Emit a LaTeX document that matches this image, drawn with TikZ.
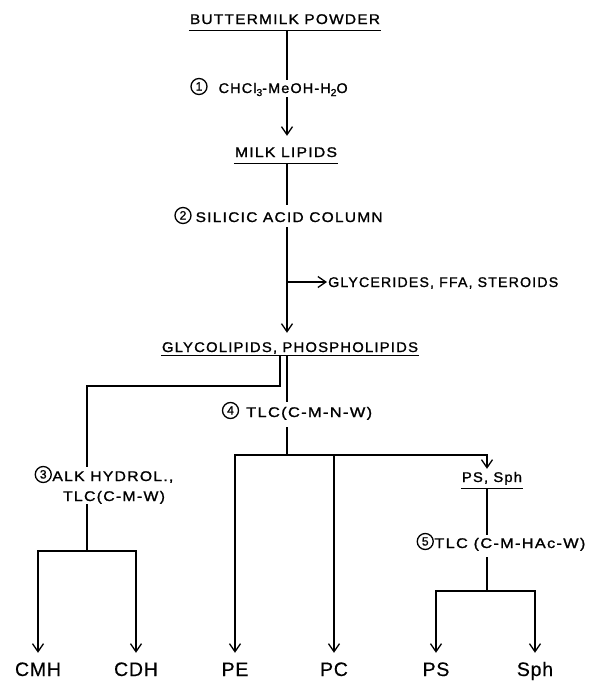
\documentclass[tikz,border=0pt]{standalone}
\usepackage{fontspec}
\usepackage{graphicx}
\usetikzlibrary{arrows.meta}
\setmainfont{Liberation Sans}
\newfontfamily\lsp{Liberation Sans}[LetterSpace=8,FakeBold=1.2]
\newfontfamily\bsp{Liberation Sans}[LetterSpace=4,FakeBold=0.4]
\newcommand\lf{\lsp\fontsize{14pt}{16pt}\selectfont}
\newcommand\digf{\lsp\fontsize{12pt}{12pt}\selectfont}
\newcommand\bigf{\bsp\fontsize{19.5pt}{22pt}\selectfont}
\newcommand\fw[2]{\resizebox{#1}{\height}{#2}}
\newcommand\cnum[1]{\raisebox{2.5pt}{\tikz[baseline=(cn.base)]\node[draw,circle,line width=1.3pt,minimum size=16pt,inner sep=0pt,text height=8pt,text depth=0pt,anchor=center,font=\digf](cn){#1};}}
\newcommand\subs[1]{\raisebox{-3pt}{\fontsize{10pt}{10pt}\selectfont #1}}
\tikzset{
  lbl/.style={font=\lf, inner xsep=1pt, inner ysep=0pt, text depth=0pt, anchor=base},
  fin/.style={font=\bigf, inner xsep=1pt, inner ysep=0pt, text height=23pt, text depth=0pt, anchor=base},
  ln/.style={line width=1.3pt},
  ulw/.style={line width=1.2pt},
  arr/.style={-{Straight Barb[length=8pt,width=11pt,line width=1.3pt]}}
}
\begin{document}
\begin{tikzpicture}[x=1pt,y=-1pt]
\useasboundingbox (0,0) rectangle (589,681);
% axis
\coordinate (ax) at (287,0);
% nodes
\node[lbl, text height=9pt, inner ysep=6pt] (bp) at (285,24) {\fw{190pt}{BUTTERMILK POWDER}};
\node[lbl, text height=13pt, text depth=4pt] (l1) at (269,93) {\cnum{1}\hspace{11pt}\fw{129pt}{CHCl\subs{3}-MeOH-H\subs{2}O}};
\node[lbl, text height=15pt, inner ysep=6pt] (ml) at (286,157) {\fw{102pt}{MILK LIPIDS}};
\node[lbl, text height=17pt, text depth=5pt] (l2) at (278.5,222) {\cnum{2}\hspace{4pt}\fw{187pt}{SILICIC ACID COLUMN}};
\node[lbl, text height=10pt, anchor=base west] (gly) at (327,287) {\fw{230pt}{GLYCERIDES, FFA, STEROIDS}};
\node[lbl, text height=16pt, inner ysep=3pt] (gp) at (290,352) {\fw{256pt}{GLYCOLIPIDS, PHOSPHOLIPIDS}};
\node[lbl, text height=15pt, text depth=10pt] (l4) at (297,417) {\cnum{4}\hspace{7pt}\fw{126pt}{TLC(C-M-N-W)}};
\node[lbl, text height=14pt] (l3a) at (104,481) {\cnum{3}\hspace{0.5pt}\fw{121pt}{ALK HYDROL.,}};
\node[lbl, text height=10pt, text depth=3pt] (l3b) at (114,501) {\fw{102pt}{TLC(C-M-W)}};
\node[lbl, text height=7pt, inner ysep=6pt] (pss) at (492,482) {\fw{60pt}{PS, Sph}};
\node[lbl, text height=13pt, text depth=9pt] (l5) at (501,548) {\cnum{5}\hspace{0.5pt}\fw{151pt}{TLC (C-M-HAc-W)}};
\node[fin] (cmh) at (38,676) {CMH};
\node[fin] (cdh) at (136,676) {CDH};
\node[fin] (pe) at (235,676) {PE};
\node[fin] (pc) at (334,676) {PC};
\node[fin] (ps) at (436,676) {PS};
\node[fin] (sph) at (535,676) {Sph};
% underlines
\draw[ulw] (bp.south west) -- (bp.south east);
\draw[ulw] (ml.south west) -- (ml.south east);
\draw[ulw] (gp.south west) -- (gp.south east);
\draw[ulw] (pss.south west) -- (pss.south east);
% junction coordinates
\coordinate (b3) at (280,0);
\coordinate (t3) at (87,386);
\coordinate (j3) at (87,551);
\coordinate (j4) at (287,455);
\coordinate (a5) at (487,455);
\coordinate (j5) at (487,591);
% connectors
\draw[ln] (ax |- bp.south) -- (ax |- l1.north);
\draw[ln,arr] (ax |- l1.south) -- (ax |- ml.north);
\draw[ln] (ax |- ml.south) -- (ax |- l2.north);
\draw[ln,arr] (ax |- l2.south) -- (ax |- gp.north);
\draw[ln,arr] (ax |- gly.west) -- (gly.west);
\draw[ln] (ax |- gp.south) -- (ax |- l4.north);
\draw[ln] (b3 |- gp.south) |- (t3) -- (t3 |- l3a.north);
\draw[ln] (t3 |- l3b.south) -- (j3);
\draw[ln,arr] (j3) -| (cmh.north);
\draw[ln,arr] (j3) -| (cdh.north);
\draw[ln] (ax |- l4.south) -- (j4);
\draw[ln,arr] (j4) -| (pe.north);
\draw[ln,arr] (j4) -| (pc.north);
\draw[ln,arr] (j4) -- (a5) -- (a5 |- pss.north);
\draw[ln] (a5 |- pss.south) -- (a5 |- l5.north);
\draw[ln] (a5 |- l5.south) -- (j5);
\draw[ln,arr] (j5) -| (ps.north);
\draw[ln,arr] (j5) -| (sph.north);
\end{tikzpicture}
\end{document}
